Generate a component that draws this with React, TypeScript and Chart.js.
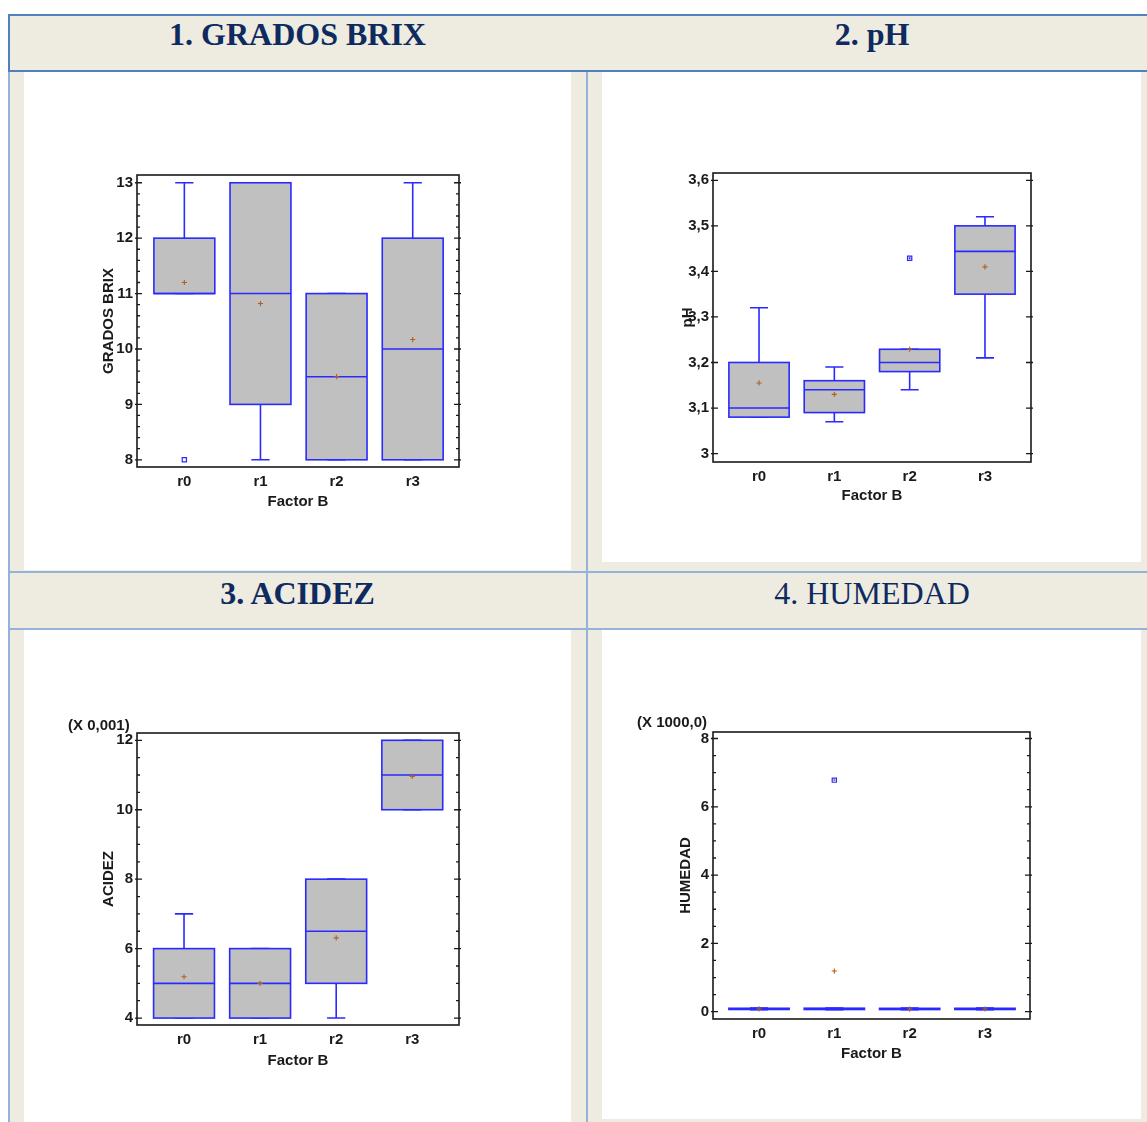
import React, { useEffect, useRef } from "react";
import { Chart, registerables } from "chart.js";
Chart.register(...registerables);

const categories = ["r0", "r1", "r2", "r3"];

// 1. GRADOS BRIX
const brixLow = [11, 8, 8, 8];
const brixQ1 = [11, 9, 8, 8];
const brixMedian = [11, 11, 9.5, 10];
const brixQ3 = [12, 13, 11, 12];
const brixHigh = [13, 13, 11, 13];
const brixMean = [11.2, 10.82, 9.5, 10.17];
const brixOutlierCat = [0];
const brixOutlierVal = [8];
const brixTicks = [8, 9, 10, 11, 12, 13];

// 2. pH
const phLow = [3.08, 3.07, 3.14, 3.21];
const phQ1 = [3.08, 3.09, 3.18, 3.35];
const phMedian = [3.1, 3.14, 3.2, 3.444];
const phQ3 = [3.2, 3.16, 3.229, 3.5];
const phHigh = [3.32, 3.19, 3.229, 3.52];
const phMean = [3.155, 3.13, 3.229, 3.41];
const phOutlierCat = [2];
const phOutlierVal = [3.429];
const phTicks = [3, 3.1, 3.2, 3.3, 3.4, 3.5, 3.6];

// 3. ACIDEZ (X 0,001)
const acLow = [4, 4, 4, 10];
const acQ1 = [4, 4, 5, 10];
const acMedian = [5, 5, 6.5, 11];
const acQ3 = [6, 6, 8, 12];
const acHigh = [7, 6, 8, 12];
const acMean = [5.19, 5.0, 6.31, 10.96];
const acOutlierCat: number[] = [];
const acOutlierVal: number[] = [];
const acTicks = [4, 6, 8, 10, 12];

// 4. HUMEDAD (X 1000,0)
const hmLow = [0.06, 0.06, 0.06, 0.06];
const hmQ1 = [0.065, 0.064, 0.063, 0.064];
const hmMedian = [0.08, 0.08, 0.078, 0.079];
const hmQ3 = [0.1, 0.102, 0.098, 0.099];
const hmHigh = [0.105, 0.108, 0.104, 0.105];
const hmMean = [0.08, 1.19, 0.078, 0.079];
const hmOutlierCat = [1];
const hmOutlierVal = [6.78];
const hmTicks = [0, 2, 4, 6, 8];

const BLUE = "#2a2aff";
const GRAY = "#c0c0c0";
const BROWN = "#b0601e";
const INK = "#1a1a1a";
const FONT = { family: "'Liberation Sans', Arial, sans-serif", size: 15, weight: "bold" as const };

type Spec = {
  low: number[]; q1: number[]; median: number[]; q3: number[]; high: number[]; mean: number[];
  outCat: number[]; outVal: number[]; yTicks: number[];
  yMin: number; yMax: number; xMin: number; xMax: number; minorStep: number;
  yTitle: string; note: string; noteDx: number; noteDy: number; fmt: (v: number) => string;
  left: number; top: number; w: number; h: number; padLeft: number; Wy: number; Hx: number;
  outInner?: string;
};

const intFmt = (v: number) => String(v);
const commaFmt = (v: number) => (Math.abs(v - Math.round(v)) < 1e-9 ? String(Math.round(v)) : v.toFixed(1).replace(".", ","));

const specs: Spec[] = [
  {
    low: brixLow, q1: brixQ1, median: brixMedian, q3: brixQ3, high: brixHigh, mean: brixMean,
    outCat: brixOutlierCat, outVal: brixOutlierVal, yTicks: brixTicks,
    yMin: 7.87, yMax: 13.14, xMin: -0.622, xMax: 3.608, minorStep: 0.2,
    yTitle: "GRADOS BRIX", note: "", noteDx: 0, noteDy: 0, fmt: intFmt,
    left: 37, top: 95, w: 442, h: 432, padLeft: 62.8, Wy: 37.2, Hx: 44.3,
  },
  {
    low: phLow, q1: phQ1, median: phMedian, q3: phQ3, high: phHigh, mean: phMean,
    outCat: phOutlierCat, outVal: phOutlierVal, yTicks: phTicks,
    yMin: 2.9815, yMax: 3.616, xMin: -0.611, xMax: 3.611, minorStep: 0,
    yTitle: "pH", note: "", noteDx: 0, noteDy: 0, fmt: commaFmt,
    left: 613, top: 93, w: 438, h: 429, padLeft: 66, Wy: 34, Hx: 43, outInner: BLUE,
  },
  {
    low: acLow, q1: acQ1, median: acMedian, q3: acQ3, high: acHigh, mean: acMean,
    outCat: acOutlierCat, outVal: acOutlierVal, yTicks: acTicks,
    yMin: 3.8, yMax: 12.21, xMin: -0.618, xMax: 3.614, minorStep: 0.5,
    yTitle: "ACIDEZ", note: "(X 0,001)", noteDx: -69, noteDy: -7.5, fmt: intFmt,
    left: 37, top: 653, w: 442, h: 432, padLeft: 63, Wy: 37, Hx: 45,
  },
  {
    low: hmLow, q1: hmQ1, median: hmMedian, q3: hmQ3, high: hmHigh, mean: hmMean,
    outCat: hmOutlierCat, outVal: hmOutlierVal, yTicks: hmTicks,
    yMin: -0.214, yMax: 8.19, xMin: -0.611, xMax: 3.598, minorStep: 0.5,
    yTitle: "HUMEDAD", note: "(X 1000,0)", noteDx: -76, noteDy: -9.5, fmt: intFmt,
    left: 613, top: 652, w: 437, h: 427, padLeft: 64, Wy: 36, Hx: 44, outInner: BROWN,
  },
];

function makeConfig(s: Spec): any {
  const boxPlugin = {
    id: "boxes",
    beforeDatasetsDraw(chart: any) {
      const { ctx, scales } = chart;
      const x = scales.x, y = scales.y;
      ctx.save();
      ctx.lineWidth = 1.6;
      ctx.strokeStyle = BLUE;
      categories.forEach((_, i) => {
        const cx = x.getPixelForValue(i);
        const bl = x.getPixelForValue(i - 0.4), br = x.getPixelForValue(i + 0.4);
        const cl = x.getPixelForValue(i - 0.12), cr = x.getPixelForValue(i + 0.12);
        const yl = y.getPixelForValue(s.low[i]), y1 = y.getPixelForValue(s.q1[i]);
        const ym = y.getPixelForValue(s.median[i]), y3 = y.getPixelForValue(s.q3[i]);
        const yh = y.getPixelForValue(s.high[i]);
        ctx.beginPath();
        ctx.moveTo(cx, y3); ctx.lineTo(cx, yh);
        ctx.moveTo(cx, y1); ctx.lineTo(cx, yl);
        ctx.moveTo(cl, yh); ctx.lineTo(cr, yh);
        ctx.moveTo(cl, yl); ctx.lineTo(cr, yl);
        ctx.stroke();
        ctx.fillStyle = GRAY;
        ctx.fillRect(bl, y3, br - bl, y1 - y3);
        ctx.strokeRect(bl, y3, br - bl, y1 - y3);
        ctx.beginPath();
        ctx.moveTo(bl, ym); ctx.lineTo(br, ym);
        ctx.stroke();
      });
      ctx.restore();
    },
    afterDraw(chart: any) {
      const { ctx, chartArea: a, scales } = chart;
      const y = scales.y;
      ctx.save();
      ctx.strokeStyle = INK;
      ctx.lineWidth = 1.6;
      ctx.strokeRect(a.left, a.top, a.right - a.left, a.bottom - a.top);
      ctx.lineWidth = 1.3;
      ctx.beginPath();
      s.yTicks.forEach((v) => {
        const py = y.getPixelForValue(v);
        ctx.moveTo(a.left - 2, py); ctx.lineTo(a.left + 5, py);
        ctx.moveTo(a.right - 5, py); ctx.lineTo(a.right + 2, py);
      });
      if (s.minorStep > 0) {
        const k0 = Math.ceil(s.yMin / s.minorStep), k1 = Math.floor(s.yMax / s.minorStep);
        for (let k = k0; k <= k1; k++) {
          const v = k * s.minorStep;
          if (s.yTicks.some((t) => Math.abs(t - v) < 1e-6)) continue;
          const py = y.getPixelForValue(v);
          ctx.moveTo(a.left, py); ctx.lineTo(a.left + 3, py);
          ctx.moveTo(a.right - 3, py); ctx.lineTo(a.right, py);
        }
      }
      ctx.stroke();
      if (s.outInner) {
        ctx.strokeStyle = s.outInner;
        ctx.lineWidth = 1;
        s.outCat.forEach((c, i) => {
          const px = scales.x.getPixelForValue(c), py = y.getPixelForValue(s.outVal[i]);
          ctx.beginPath();
          ctx.moveTo(px - 1, py); ctx.lineTo(px + 1, py);
          ctx.moveTo(px, py - 1); ctx.lineTo(px, py + 1);
          ctx.stroke();
        });
      }
      if (s.note) {
        ctx.fillStyle = INK;
        ctx.font = "bold 15px 'Liberation Sans', Arial, sans-serif";
        ctx.textAlign = "left";
        ctx.textBaseline = "middle";
        ctx.fillText(s.note, a.left + s.noteDx, a.top + s.noteDy);
      }
      ctx.restore();
    },
  };

  const means = categories.map((_, i) => ({ x: i, y: s.mean[i] }));
  const outs = s.outCat.map((c, i) => ({ x: c, y: s.outVal[i] }));

  return {
    type: "scatter",
    data: {
      datasets: [
        { data: means, pointStyle: "cross", radius: 2.6, borderColor: BROWN, backgroundColor: BROWN, borderWidth: 1.1 },
        { data: outs, pointStyle: "rect", radius: 3, borderColor: BLUE, backgroundColor: "#ffffff", borderWidth: 1.2 },
      ],
    },
    options: {
      animation: false,
      responsive: false,
      devicePixelRatio: 1,
      events: [],
      layout: { padding: { left: s.padLeft, top: 80, right: 20, bottom: 60 - s.Hx } },
      plugins: { legend: { display: false }, tooltip: { enabled: false } },
      scales: {
        x: {
          type: "linear",
          min: s.xMin,
          max: s.xMax,
          grid: { display: false, drawTicks: false },
          border: { display: false },
          afterBuildTicks: (sc: any) => { sc.ticks = categories.map((_, i) => ({ value: i })); },
          afterFit: (sc: any) => { sc.height = s.Hx; },
          ticks: {
            callback: (v: number) => categories[Math.round(v)],
            padding: 6, font: FONT, color: INK, maxRotation: 0, autoSkip: false,
          },
          title: { display: true, text: "Factor B", font: FONT, color: INK, padding: 0 },
        },
        y: {
          type: "linear",
          min: s.yMin,
          max: s.yMax,
          grid: { display: false, drawTicks: false },
          border: { display: false },
          afterBuildTicks: (sc: any) => { sc.ticks = s.yTicks.map((v) => ({ value: v })); },
          afterFit: (sc: any) => { sc.width = s.Wy; },
          ticks: { callback: (v: number) => s.fmt(v), padding: 4, font: FONT, color: INK, autoSkip: false },
          title: { display: true, text: s.yTitle, font: FONT, color: INK, padding: 0 },
        },
      },
    },
    plugins: [boxPlugin],
  };
}

function BoxChart({ spec }: { spec: Spec }) {
  const ref = useRef<HTMLCanvasElement>(null);
  useEffect(() => {
    const chart = new Chart(ref.current as HTMLCanvasElement, makeConfig(spec));
    return () => chart.destroy();
  }, [spec]);
  return (
    <canvas
      ref={ref}
      width={spec.w}
      height={spec.h}
      style={{ position: "absolute", left: spec.left, top: spec.top, width: spec.w, height: spec.h }}
    />
  );
}

const BEIGE = "#eeece1";
const DARK = "#4f81bd";
const LIGHT = "#95b3d7";
const NAVY = "#0f2a5e";

function R({ l, t, w, h, c }: { l: number; t: number; w: number; h: number; c: string }) {
  return <div style={{ position: "absolute", left: l, top: t, width: w, height: h, background: c }} />;
}

function Head({ l, w, t, text, bold }: { l: number; w: number; t: number; text: string; bold: boolean }) {
  return (
    <div
      style={{
        position: "absolute", left: l, top: t, width: w, textAlign: "center",
        fontFamily: "'Liberation Serif', 'Times New Roman', serif", fontSize: 32, lineHeight: "32px",
        fontWeight: bold ? "bold" : "normal", color: NAVY, whiteSpace: "nowrap",
      }}
    >
      {text}
    </div>
  );
}

export default function App() {
  return (
    <div style={{ position: "absolute", left: 0, top: 0, width: 1147, height: 1122, overflow: "hidden", background: "#fff" }}>
      {/* header row 1 */}
      <R l={9} t={16} w={1138} h={54} c={BEIGE} />
      {/* top row body */}
      <R l={10} t={72} w={1137} h={500} c={BEIGE} />
      <R l={24} t={72} w={547} h={498} c="#fff" />
      <R l={602} t={72} w={539} h={490} c="#fff" />
      {/* header row 2 */}
      <R l={10} t={573} w={1137} h={56} c={BEIGE} />
      {/* bottom row body */}
      <R l={10} t={630} w={1137} h={492} c={BEIGE} />
      <R l={24} t={630} w={547} h={492} c="#fff" />
      <R l={602} t={630} w={539} h={489} c="#fff" />
      {/* borders */}
      <R l={8} t={72} w={2} h={1050} c={LIGHT} />
      <R l={586} t={72} w={2} h={1050} c={LIGHT} />
      <R l={8} t={571} w={1139} h={2} c={LIGHT} />
      <R l={8} t={628} w={1139} h={2} c={LIGHT} />
      <R l={8} t={14} w={1139} h={2} c={DARK} />
      <R l={8} t={70} w={1139} h={2} c={DARK} />
      <R l={8} t={14} w={2} h={58} c={DARK} />
      {/* headers */}
      <Head l={9} w={577} t={18} text="1. GRADOS BRIX" bold={true} />
      <Head l={587} w={570} t={18} text="2. pH" bold={true} />
      <Head l={9} w={577} t={576.5} text="3. ACIDEZ" bold={true} />
      <Head l={587} w={570} t={576.5} text="4. HUMEDAD" bold={false} />
      {specs.map((s, i) => (
        <BoxChart key={i} spec={s} />
      ))}
    </div>
  );
}
